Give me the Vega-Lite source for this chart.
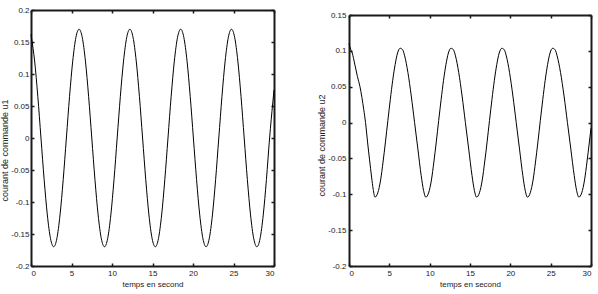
{
  "$schema": "https://vega.github.io/schema/vega-lite/v6.json",
  "padding": {"left": 0, "top": 5, "right": 0, "bottom": 0},
  "background": "white",
  "spacing": 75,
  "bounds": "flush",
  "config": {
    "view": {"stroke": "#1a1a1a", "strokeWidth": 1},
    "font": "Liberation Sans",
    "axis": {
      "grid": false,
      "domainColor": "#1a1a1a",
      "domainWidth": 2,
      "tickColor": "#1a1a1a",
      "tickWidth": 1.5,
      "tickSize": -3,
      "labelFont": "Liberation Sans",
      "titleFont": "Liberation Sans",
      "labelFontSize": 8,
      "titleFontSize": 8,
      "titleFontWeight": "normal",
      "labelColor": "#222222",
      "titleColor": "#222222",
      "labelPadding": 5,
      "titlePadding": 1
    }
  },
  "hconcat": [
    {
      "width": 243,
      "height": 256,
      "data": {"values": [
        {"t":0,"u":0.162},{"t":0.056,"u":0.1571},{"t":0.448,"u":0.1202},{"t":0.84,"u":0.0651},{"t":1.232,"u":0},{"t":1.624,"u":-0.0651},{"t":2.016,"u":-0.1202},{"t":2.408,"u":-0.1571},{"t":2.8,"u":-0.17},{"t":3.192,"u":-0.1571},{"t":3.584,"u":-0.1202},{"t":3.976,"u":-0.0651},{"t":4.368,"u":0},{"t":4.76,"u":0.0651},{"t":5.152,"u":0.1202},{"t":5.544,"u":0.1571},{"t":5.936,"u":0.17},{"t":6.328,"u":0.1571},{"t":6.72,"u":0.1202},{"t":7.112,"u":0.0651},{"t":7.504,"u":0},{"t":7.896,"u":-0.0651},{"t":8.288,"u":-0.1202},{"t":8.68,"u":-0.1571},{"t":9.072,"u":-0.17},{"t":9.464,"u":-0.1571},{"t":9.856,"u":-0.1202},{"t":10.248,"u":-0.0651},{"t":10.64,"u":0},{"t":11.032,"u":0.0651},{"t":11.424,"u":0.1202},{"t":11.816,"u":0.1571},{"t":12.208,"u":0.17},{"t":12.6,"u":0.1571},{"t":12.992,"u":0.1202},{"t":13.384,"u":0.0651},{"t":13.776,"u":0},{"t":14.168,"u":-0.0651},{"t":14.56,"u":-0.1202},{"t":14.952,"u":-0.1571},{"t":15.344,"u":-0.17},{"t":15.736,"u":-0.1571},{"t":16.128,"u":-0.1202},{"t":16.52,"u":-0.0651},{"t":16.912,"u":0},{"t":17.304,"u":0.0651},{"t":17.696,"u":0.1202},{"t":18.088,"u":0.1571},{"t":18.48,"u":0.17},{"t":18.872,"u":0.1571},{"t":19.264,"u":0.1202},{"t":19.656,"u":0.0651},{"t":20.048,"u":0},{"t":20.44,"u":-0.0651},{"t":20.832,"u":-0.1202},{"t":21.224,"u":-0.1571},{"t":21.616,"u":-0.17},{"t":22.008,"u":-0.1571},{"t":22.4,"u":-0.1202},{"t":22.792,"u":-0.0651},{"t":23.184,"u":0},{"t":23.576,"u":0.0651},{"t":23.968,"u":0.1202},{"t":24.36,"u":0.1571},{"t":24.752,"u":0.17},{"t":25.144,"u":0.1571},{"t":25.536,"u":0.1202},{"t":25.928,"u":0.0651},{"t":26.32,"u":0},{"t":26.712,"u":-0.0651},{"t":27.104,"u":-0.1202},{"t":27.496,"u":-0.1571},{"t":27.888,"u":-0.17},{"t":28.28,"u":-0.1571},{"t":28.672,"u":-0.1202},{"t":29.064,"u":-0.0651},{"t":29.456,"u":0},{"t":29.848,"u":0.055},{"t":30,"u":0.075}
      ]},
      "layer": [
        {
          "mark": {"type": "line", "color": "#000000", "strokeWidth": 1, "interpolate": "monotone"},
          "encoding": {
            "x": {"field": "t", "type": "quantitative",
                  "scale": {"domain": [0, 30], "nice": false, "zero": false},
                  "axis": {"orient": "bottom", "values": [0,5,10,15,20,25,30], "title": "temps en second", "titleFontSize": 8, "labelPadding": 6, "titlePadding": 3}},
            "y": {"field": "u", "type": "quantitative",
                  "scale": {"domain": [-0.2, 0.2], "nice": false, "zero": false},
                  "axis": {"orient": "left", "values": [-0.2,-0.15,-0.1,-0.05,0,0.05,0.1,0.15,0.2], "labelExpr": "'' + datum.value", "title": "courant de commande u1", "titleFontSize": 9, "titleY": 140}}
          }
        },
        {
          "mark": {"type": "line", "opacity": 0},
          "encoding": {
            "x": {"field": "t", "type": "quantitative",
                  "axis": {"orient": "top", "values": [0,5,10,15,20,25,30], "labels": false, "title": null}},
            "y": {"field": "u", "type": "quantitative",
                  "axis": {"orient": "right", "values": [-0.2,-0.15,-0.1,-0.05,0,0.05,0.1,0.15,0.2], "labels": false, "title": null}}
          }
        }
      ],
      "resolve": {"axis": {"x": "independent", "y": "independent"}}
    },
    {
      "width": 242,
      "height": 256,
      "view": {"stroke": "#ffffff"},
      "data": {"values": [
        {"t":0,"u":0.110},{"t":0.15,"u":0.104},{"t":0.4,"u":0.097},{"t":0.74,"u":0.080},{"t":1.05,"u":0.064},{"t":1.36,"u":0.050},{"t":1.6,"u":0.035},{"t":1.83,"u":0.018},{"t":2.05,"u":0},{"t":2.3,"u":-0.027},{"t":2.55,"u":-0.052},{"t":2.8,"u":-0.076},{"t":3.0,"u":-0.093},{"t":3.22,"u":-0.104},
        {"t":3.57,"u":-0.098},{"t":3.92,"u":-0.080},{"t":4.22,"u":-0.055},{"t":4.52,"u":-0.027},{"t":4.82,"u":0.003},{"t":5.12,"u":0.032},{"t":5.42,"u":0.059},{"t":5.72,"u":0.081},{"t":6.02,"u":0.097},{"t":6.35,"u":0.1036},{"t":6.65,"u":0.1015},{"t":6.9,"u":0.093},{"t":7.3,"u":0.070},{"t":7.72,"u":0.037},{"t":8.13,"u":0},{"t":8.54,"u":-0.037},{"t":8.95,"u":-0.074},{"t":9.25,"u":-0.095},{"t":9.52,"u":-0.104},
        {"t":9.87,"u":-0.098},{"t":10.22,"u":-0.080},{"t":10.52,"u":-0.055},{"t":10.82,"u":-0.027},{"t":11.12,"u":0.003},{"t":11.42,"u":0.032},{"t":11.72,"u":0.059},{"t":12.02,"u":0.081},{"t":12.32,"u":0.097},{"t":12.65,"u":0.1036},{"t":12.95,"u":0.1015},{"t":13.2,"u":0.093},{"t":13.6,"u":0.070},{"t":14.02,"u":0.037},{"t":14.43,"u":0},{"t":14.84,"u":-0.037},{"t":15.25,"u":-0.074},{"t":15.55,"u":-0.095},{"t":15.82,"u":-0.104},
        {"t":16.17,"u":-0.098},{"t":16.52,"u":-0.080},{"t":16.82,"u":-0.055},{"t":17.12,"u":-0.027},{"t":17.42,"u":0.003},{"t":17.72,"u":0.032},{"t":18.02,"u":0.059},{"t":18.32,"u":0.081},{"t":18.62,"u":0.097},{"t":18.95,"u":0.1036},{"t":19.25,"u":0.1015},{"t":19.5,"u":0.093},{"t":19.9,"u":0.070},{"t":20.32,"u":0.037},{"t":20.73,"u":0},{"t":21.14,"u":-0.037},{"t":21.55,"u":-0.074},{"t":21.85,"u":-0.095},{"t":22.12,"u":-0.104},
        {"t":22.47,"u":-0.098},{"t":22.82,"u":-0.080},{"t":23.12,"u":-0.055},{"t":23.42,"u":-0.027},{"t":23.72,"u":0.003},{"t":24.02,"u":0.032},{"t":24.32,"u":0.059},{"t":24.62,"u":0.081},{"t":24.92,"u":0.097},{"t":25.25,"u":0.1036},{"t":25.55,"u":0.1015},{"t":25.8,"u":0.093},{"t":26.22,"u":0.070},{"t":26.66,"u":0.037},{"t":27.08,"u":0},{"t":27.5,"u":-0.037},{"t":27.92,"u":-0.074},{"t":28.22,"u":-0.095},{"t":28.5,"u":-0.104},
        {"t":28.85,"u":-0.098},{"t":29.2,"u":-0.080},{"t":29.5,"u":-0.055},{"t":29.8,"u":-0.027},{"t":30,"u":-0.008}
      ]},
      "layer": [
        {
          "mark": {"type": "line", "color": "#000000", "strokeWidth": 1, "interpolate": "monotone"},
          "encoding": {
            "x": {"field": "t", "type": "quantitative",
                  "scale": {"domain": [0, 30], "nice": false, "zero": false},
                  "axis": {"orient": "bottom", "values": [0,5,10,15,20,25,30], "title": "temps en second", "titleFontSize": 8, "labelPadding": 6, "titlePadding": 3}},
            "y": {"field": "u", "type": "quantitative",
                  "scale": {"domain": [-0.2, 0.15], "range": [256, 5], "nice": false, "zero": false},
                  "axis": {"orient": "left", "values": [-0.2,-0.15,-0.1,-0.05,0,0.05,0.1,0.15], "labelExpr": "'' + datum.value", "labelPadding": 6, "title": "courant de commande u2", "titleFontSize": 9, "titleY": 135}}
          }
        },
        {
          "mark": {"type": "line", "opacity": 0},
          "encoding": {
            "x": {"field": "t", "type": "quantitative",
                  "axis": {"orient": "top", "offset": -5, "values": [0,5,10,15,20,25,30], "labels": false, "title": null}},
            "y": {"field": "u", "type": "quantitative",
                  "axis": {"orient": "right", "values": [-0.2,-0.15,-0.1,-0.05,0,0.05,0.1,0.15], "labels": false, "title": null}}
          }
        }
      ],
      "resolve": {"axis": {"x": "independent", "y": "independent"}}
    }
  ]
}
